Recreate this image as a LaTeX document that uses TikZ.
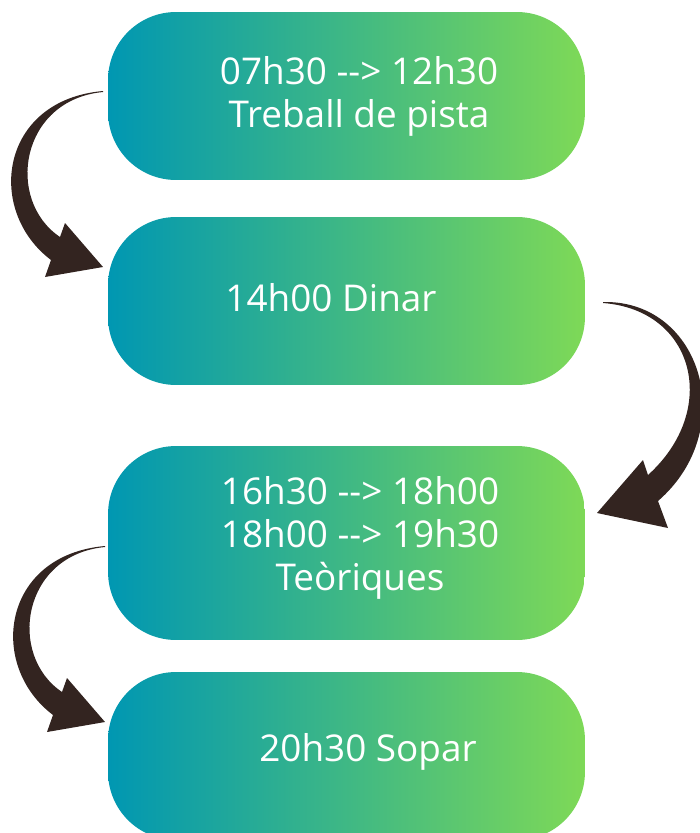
\documentclass[tikz,border=0pt]{standalone}
\usepackage{fontspec}
\setmainfont{Open Sans}
\usetikzlibrary{positioning}
\definecolor{tealstart}{HTML}{0097B2}
\definecolor{greenend}{HTML}{7ED957}
\definecolor{arrowbrown}{RGB}{51,36,32}
\tikzset{
  slot/.style={rounded corners=1.36cm, minimum width=9.54cm, minimum height=3.36cm,
    left color=tealstart, right color=greenend, inner sep=0pt},
  slottext/.style={text=white, align=center, font=\fontsize{21}{24.4}\selectfont},
}
\def\dashto{-\kern0pt-\kern0pt>}
\def\leftswoop(#1,#2){\fill[arrowbrown, shift={(#1,#2)}] (103,91) .. controls (0,100) and (-15,210) .. (51,260) -- (45,277) -- (103,267) -- (65,223) -- (60,237) .. controls (5,200) and (20,100) .. (103,92) -- cycle;}

\begin{document}
\begin{tikzpicture}[x=0.02cm, y=-0.02cm]
		\useasboundingbox (0,0) rectangle (700,833);
		\clip (0,0) rectangle (700,833);
		%%%%% BOXES %%%%%
		\node[slot] (b1) at (346.5, 96) {};
		\node[slot] (b2) at (346.5, 301) {};
		\node[slot, minimum height=3.88cm] (b3) at (346.5, 543) {};
		\node[slot] (b4) at (346.5, 756) {};
		
		\node[slottext] (t1) at (359, 96) {07h30 \dashto{} 12h30\\Treball de pista};
		\node[slottext] (t2) at (331, 298) {14h00 Dinar};
		\node[slottext] (t3) at (360, 538) {16h30 \dashto{} 18h00\\18h00 \dashto{} 19h30\\Teòriques};
		\node[slottext] (t4) at (368, 752) {20h30 Sopar};
		
		%%%%% ARROWS %%%%%
		\leftswoop(0,0)
		\fill[arrowbrown] (603,302) .. controls (702,300) and (740,430) .. (658,501) -- (668,528) -- (597,513) -- (643,460) -- (648,475) .. controls (720,410) and (695,310) .. (603,303) -- cycle;
		\leftswoop(2,455)
\end{tikzpicture}
\end{document}
